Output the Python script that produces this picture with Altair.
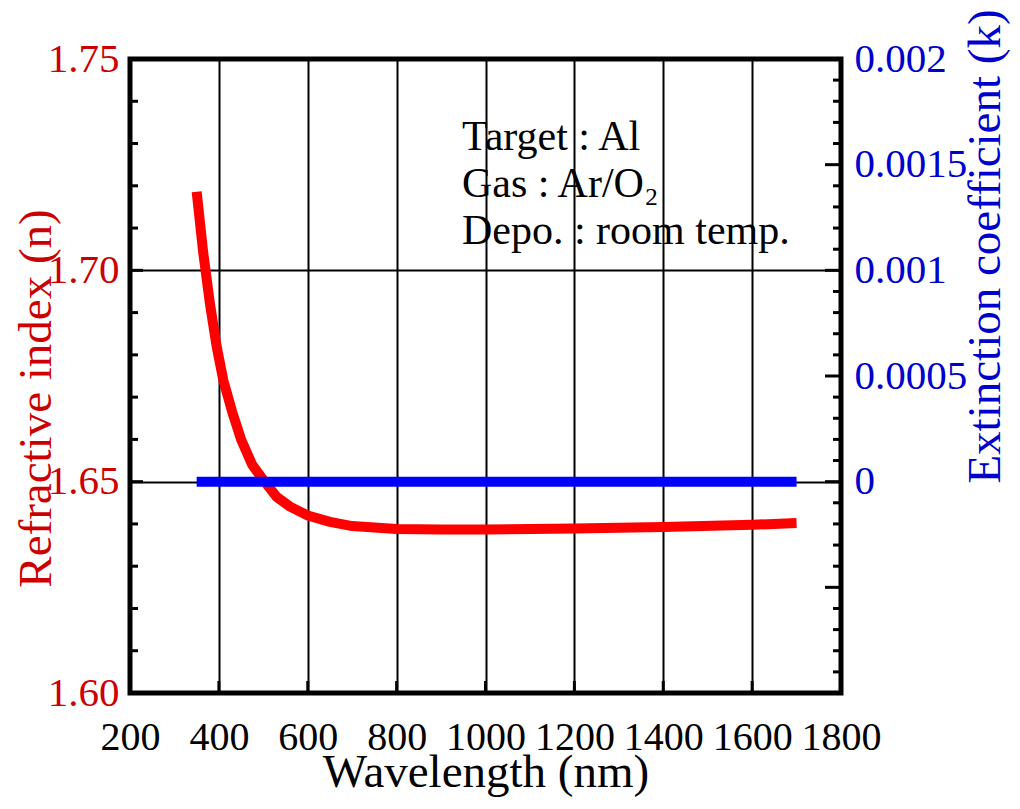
import altair as alt
import pandas as pd

# ---- data ----
wavelength = [350, 365, 380, 395, 410, 430, 450, 475, 500, 530, 560, 600, 650,
              700, 800, 900, 1000, 1200, 1400, 1600, 1700]
n_values = [1.7186, 1.7040, 1.6920, 1.6820, 1.6740, 1.6665, 1.6600, 1.6540,
            1.6504, 1.6464, 1.6441, 1.6420, 1.6405, 1.6395, 1.6388, 1.6387,
            1.6387, 1.6389, 1.6393, 1.6398, 1.6402]
k_wavelength = [350, 1700]
k_values = [0.0, 0.0]

x_ticks = [200, 400, 600, 800, 1000, 1200, 1400, 1600, 1800]
n_ticks = [1.60, 1.65, 1.70, 1.75]
n_minor = [1.61, 1.62, 1.63, 1.64, 1.66, 1.67, 1.68, 1.69, 1.71, 1.72, 1.73, 1.74]
k_labels = [0.0, 0.0005, 0.001, 0.0015, 0.002]
k_major = [-0.001, -0.0005, 0.0, 0.0005, 0.001, 0.0015, 0.002]
k_minor = [-0.0009, -0.0008, -0.0007, -0.0006, -0.0004, -0.0003, -0.0002, -0.0001,
           0.0001, 0.0002, 0.0003, 0.0004, 0.0006, 0.0007, 0.0008, 0.0009,
           0.0011, 0.0012, 0.0013, 0.0014, 0.0016, 0.0017, 0.0018, 0.0019]
notes = ["Target : Al", "Gas : Ar/O\u2082", "Depo. : room temp."]
note_pos = (947, 1.7285)

W, H = 711, 634
FONT = "Liberation Serif"
RED_TXT = "#cc0000"
BLUE_TXT = "#0000cc"

n_df = pd.DataFrame({"wl": wavelength, "n": n_values})
k_df = pd.DataFrame({"wl": k_wavelength, "k": k_values})

xscale = alt.Scale(domain=[200, 1800], nice=False, zero=False)
nscale = alt.Scale(domain=[1.60, 1.75], nice=False, zero=False)
kscale = alt.Scale(domain=[-0.001, 0.002], nice=False, zero=False)

x_axis = alt.Axis(values=x_ticks, format="d", title="Wavelength (nm)", grid=True,
                  gridColor="black", gridWidth=2, gridOpacity=1, ticks=False, domain=False,
                  labelFontSize=40, labelColor="black", labelPadding=24, labelOverlap=False,
                  titleFontSize=47, titleColor="black", titleY=93,
                  titleBaseline="alphabetic", labelFlush=False)
n_axis = alt.Axis(values=n_ticks, format=".2f", title="Refractive index (n)", grid=True,
                  gridColor="black", gridWidth=2, gridOpacity=1, ticks=False, domain=False,
                  labelFontSize=41, labelColor=RED_TXT, labelPadding=11, labelOverlap=False,
                  titleFontSize=47, titleColor=RED_TXT, titleAngle=270, titleX=-80,
                  titleY=339, titleBaseline="alphabetic", titleAlign="center",
                  labelFlush=False)
k_axis = alt.Axis(values=k_labels, labelExpr="toString(datum.value)",
                  title="Extinction coefficient (k)", orient="right", grid=False,
                  ticks=False, domain=False, labelFontSize=41, labelColor=BLUE_TXT,
                  labelPadding=13, labelOverlap=False, titleFontSize=47, titleColor=BLUE_TXT,
                  titleAngle=270, titleX=158, titleY=187, titleBaseline="alphabetic",
                  titleAlign="center", labelFlush=False)

red = alt.Chart(n_df).mark_line(color="#ff0000", strokeWidth=10, strokeCap="butt",
                                strokeJoin="round").encode(
    x=alt.X("wl:Q", scale=xscale, axis=x_axis),
    y=alt.Y("n:Q", scale=nscale, axis=n_axis),
)

left_minor = alt.Chart(pd.DataFrame({"n": n_minor})).mark_rule(
    color="black", strokeWidth=3).encode(
    y=alt.Y("n:Q", scale=nscale), x=alt.value(0), x2=alt.value(8))
left_major = alt.Chart(pd.DataFrame({"n": n_ticks})).mark_rule(
    color="black", strokeWidth=3).encode(
    y=alt.Y("n:Q", scale=nscale), x=alt.value(0), x2=alt.value(13))
bottom_major = alt.Chart(pd.DataFrame({"wl": x_ticks})).mark_rule(
    color="black", strokeWidth=3).encode(
    x=alt.X("wl:Q", scale=xscale), y=alt.value(H - 12), y2=alt.value(H))

note_text = alt.Chart(pd.DataFrame({"t": [notes]})).mark_text(
    align="left", baseline="alphabetic", font=FONT, fontSize=42, lineHeight=47,
    color="black").encode(
    x=alt.datum(note_pos[0]), y=alt.datum(note_pos[1]), text="t")

left_layer = alt.layer(red, left_minor, left_major, bottom_major, note_text)

blue = alt.Chart(k_df).mark_line(color="#0000ff", strokeWidth=10, strokeCap="butt").encode(
    x=alt.X("wl:Q", scale=xscale),
    y=alt.Y("k:Q", scale=kscale, axis=k_axis),
)
right_minor = alt.Chart(pd.DataFrame({"k": k_minor})).mark_rule(
    color="black", strokeWidth=3).encode(
    y=alt.Y("k:Q", scale=kscale), x=alt.value(W - 8), x2=alt.value(W))
right_major = alt.Chart(pd.DataFrame({"k": k_major})).mark_rule(
    color="black", strokeWidth=3).encode(
    y=alt.Y("k:Q", scale=kscale), x=alt.value(W - 16), x2=alt.value(W))

right_layer = alt.layer(blue, right_minor, right_major)

chart = alt.layer(left_layer, right_layer).resolve_scale(y="independent").properties(
    width=W, height=H,
    background="white",
    autosize=alt.AutoSizeParams(type="none"),
    padding={"left": 122, "top": 51, "right": 171, "bottom": 108},
).configure_view(stroke="black", strokeWidth=5).configure_axis(
    labelFont=FONT, titleFont=FONT, titleFontWeight="normal"
)

chart.save("out.html", embed_options={"renderer": "svg", "actions": False})
